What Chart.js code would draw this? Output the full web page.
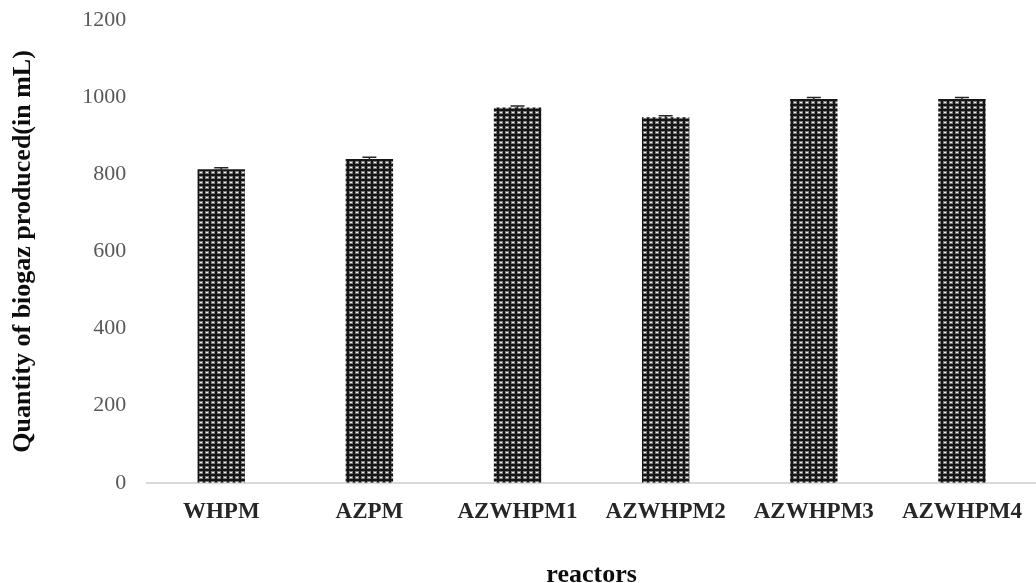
<!DOCTYPE html>
<html>
<head>
<meta charset="utf-8">
<script src="https://cdn.jsdelivr.net/npm/chart.js@4.4.1/dist/chart.umd.min.js"></script>
<style>
  html, body { margin: 0; padding: 0; background: #fff; }
  #wrap { width: 1036px; height: 583px; }
</style>
</head>
<body>
<div id="wrap"><canvas id="myChart" width="1036" height="583"></canvas></div>
<script>
    // data
    const reactors = ['WHPM', 'AZPM', 'AZWHPM1', 'AZWHPM2', 'AZWHPM3', 'AZWHPM4']
    const biogas = [813, 840, 973, 948, 995, 995]
    const errors = [4, 4, 4, 4, 4, 4]
    const yTicks = [0, 200, 400, 600, 800, 1000, 1200]

    // dotted fill like the original bars
    function dotPattern() {
      const c = document.createElement('canvas')
      c.width = 6
      c.height = 5
      const g = c.getContext('2d')
      g.fillStyle = '#151515'
      g.fillRect(0, 0, 6, 5)
      g.fillStyle = '#7a7a7a'
      g.fillRect(1, 1, 4, 3)
      g.fillStyle = '#f2f2f2'
      g.fillRect(2, 2, 2, 1)
      g.fillStyle = '#151515'
      g.fillRect(0, 0, 6, 1)
      return document.getElementById('myChart').getContext('2d').createPattern(c, 'repeat')
    }

    // small error caps on top of each bar
    const errorBars = {
      id: 'errorBars',
      afterDatasetsDraw(chart) {
        const ctx = chart.ctx
        const y = chart.scales.y
        const meta = chart.getDatasetMeta(0)
        ctx.save()
        ctx.strokeStyle = '#262626'
        ctx.lineWidth = 1.5
        meta.data.forEach(function (bar, i) {
          const top = y.getPixelForValue(biogas[i] + errors[i])
          const bottom = y.getPixelForValue(biogas[i] - errors[i])
          ctx.beginPath()
          ctx.moveTo(bar.x, top)
          ctx.lineTo(bar.x, bottom)
          ctx.moveTo(bar.x - 7, top)
          ctx.lineTo(bar.x + 7, top)
          ctx.stroke()
        })
        ctx.restore()
      }
    }

    const datachart = {
      labels: reactors,
      datasets: [{
        label: 'biogas',
        data: biogas,
        backgroundColor: dotPattern(),
        borderWidth: 0,
        barPercentage: 0.32,
        categoryPercentage: 1
      }]
    }

    // y tick lineHeight is tuned so the top label leaves ~20px above the plot
    const config = {
      type: 'bar',
      data: datachart,
      plugins: [errorBars],
      options: {
        responsive: false,
        animation: false,
        layout: { padding: { left: 8, right: 0, top: 0, bottom: -8 } },
        plugins: {
          legend: { display: false },
          tooltip: { enabled: false }
        },
        scales: {
          x: {
            grid: { display: false },
            border: { display: true, color: '#d9d9d9', width: 2 },
            ticks: {
              color: '#262626',
              padding: 5,
              font: { family: 'Liberation Serif', size: 23, weight: 'bold', lineHeight: 1.39 }
            },
            title: {
              display: true,
              text: 'reactors',
              color: '#0d0d0d',
              padding: { top: 27, bottom: 0 },
              font: { family: 'Liberation Serif', size: 26, weight: 'bold' }
            }
          },
          y: {
            min: 0,
            max: 1200,
            afterBuildTicks(axis) { axis.ticks = yTicks.map(v => ({ value: v })) },
            grid: { display: false },
            border: { display: false },
            ticks: {
              color: '#595959',
              padding: 13,
              font: { family: 'Liberation Serif', size: 22, lineHeight: 0.64 },
              callback: v => String(v)
            },
            title: {
              display: true,
              text: 'Quantity of biogaz produced(in mL)',
              color: '#0d0d0d',
              padding: { top: 0, bottom: 30 },
              font: { family: 'Liberation Serif', size: 26, weight: 'bold' }
            }
          }
        }
      }
    }

    const myChart = new Chart(document.getElementById('myChart'), config)
</script>
</body>
</html>
